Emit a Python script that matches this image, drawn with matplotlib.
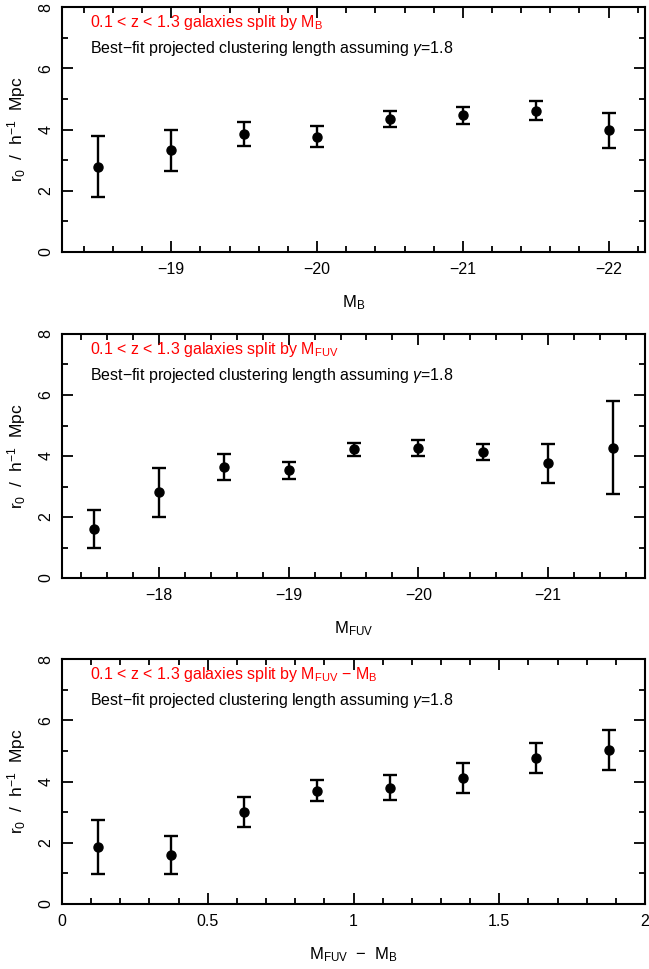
import matplotlib
matplotlib.use("Agg")
import matplotlib.pyplot as plt
from matplotlib.ticker import MultipleLocator

# Panel 1: split by M_B
mb_x = [-18.5, -19.0, -19.5, -20.0, -20.5, -21.0, -21.5, -22.0]
mb_r0 = [2.79, 3.32, 3.86, 3.77, 4.35, 4.47, 4.61, 3.97]
mb_lo = [1.78, 2.66, 3.47, 3.42, 4.09, 4.19, 4.30, 3.40]
mb_hi = [3.79, 3.99, 4.26, 4.11, 4.61, 4.75, 4.92, 4.54]

# Panel 2: split by M_FUV
mfuv_x = [-17.5, -18.0, -18.5, -19.0, -19.5, -20.0, -20.5, -21.0, -21.5]
mfuv_r0 = [1.62, 2.81, 3.63, 3.53, 4.22, 4.26, 4.14, 3.76, 4.27]
mfuv_lo = [0.98, 2.01, 3.21, 3.25, 4.00, 4.00, 3.87, 3.11, 2.77]
mfuv_hi = [2.24, 3.61, 4.05, 3.79, 4.43, 4.51, 4.40, 4.39, 5.79]

# Panel 3: split by M_FUV - M_B
col_x = [0.125, 0.375, 0.625, 0.875, 1.125, 1.375, 1.625, 1.875]
col_r0 = [1.85, 1.60, 3.00, 3.70, 3.80, 4.10, 4.77, 5.02]
col_lo = [0.98, 0.98, 2.53, 3.36, 3.40, 3.63, 4.28, 4.36]
col_hi = [2.75, 2.21, 3.48, 4.06, 4.20, 4.60, 5.27, 5.68]

titles = [r"0.1 < z < 1.3 galaxies split by M$_\mathregular{B}$",
          r"0.1 < z < 1.3 galaxies split by M$_\mathregular{FUV}$",
          r"0.1 < z < 1.3 galaxies split by M$_\mathregular{FUV}$ $-$ M$_\mathregular{B}$"]
xlabels = [r"M$_\mathregular{B}$", r"M$_\mathregular{FUV}$",
           r"M$_\mathregular{FUV}$  $-$  M$_\mathregular{B}$"]
xlims = [(-18.25, -22.25), (-17.25, -21.75), (0, 2)]
majors = [1, 1, 0.5]
minors = [0.2, 0.2, 0.1]
subtitle = r"Best$-$fit projected clustering length assuming $\gamma$=1.8"
ylabel = r"r$_\mathregular{0}$  /  h$^\mathregular{-1}$  Mpc"

plt.rcParams['font.family'] = ['Liberation Sans', 'DejaVu Sans']
plt.rcParams['mathtext.fontset'] = 'custom'
plt.rcParams['mathtext.rm'] = 'Liberation Sans'
plt.rcParams['mathtext.it'] = 'Liberation Sans:italic'

W, H = 649, 969
fig = plt.figure(figsize=(W / 100, H / 100), dpi=100)

boxes = [(7, 252), (334, 578), (659, 904)]
left, right = 62, 645
datasets = [(mb_x, mb_r0, mb_lo, mb_hi), (mfuv_x, mfuv_r0, mfuv_lo, mfuv_hi),
            (col_x, col_r0, col_lo, col_hi)]

for i, (top, bot) in enumerate(boxes):
    ax = fig.add_axes([left / W, 1 - bot / H, (right - left) / W, (bot - top) / H])
    x, y, lo, hi = datasets[i]
    yerr = [[yy - l for yy, l in zip(y, lo)], [h - yy for yy, h in zip(y, hi)]]
    ax.errorbar(x, y, yerr=yerr, fmt='o', color='black', ms=6.5, elinewidth=1.7,
                capsize=5, capthick=1.7)
    ax.set_xlim(*xlims[i])
    ax.set_ylim(0, 8)
    ax.xaxis.set_major_locator(MultipleLocator(majors[i]))
    ax.xaxis.set_minor_locator(MultipleLocator(minors[i]))
    ax.yaxis.set_major_locator(MultipleLocator(2))
    ax.yaxis.set_minor_locator(MultipleLocator(1))
    ax.tick_params(which='both', direction='in', top=True, right=True,
                   labelsize=11.5, width=1.3)
    ax.tick_params(which='major', length=8)
    ax.tick_params(which='minor', length=4)
    ax.tick_params(axis='y', which='major', labelrotation=90, pad=6)
    for lab in ax.get_yticklabels():
        lab.set_verticalalignment('center')
    ax.tick_params(axis='x', pad=7)
    for s in ax.spines.values():
        s.set_linewidth(1.5)
    if i == 2:
        ax.xaxis.set_major_formatter(plt.FuncFormatter(
            lambda v, p: '%g' % v))
    else:
        ax.xaxis.set_major_formatter(plt.FuncFormatter(
            lambda v, p: '\u2212%g' % abs(v)))
    ax.set_xlabel(xlabels[i], fontsize=12, labelpad=12)
    ax.set_ylabel(ylabel, fontsize=12.5, labelpad=8)
    ax.text(0.048, 0.935, titles[i], color='red', fontsize=11.5,
            transform=ax.transAxes, va='center', ha='left')
    ax.text(0.048, 0.83, subtitle, color='black', fontsize=11.5,
            transform=ax.transAxes, va='center', ha='left')

fig.savefig("out.png", dpi=100)
